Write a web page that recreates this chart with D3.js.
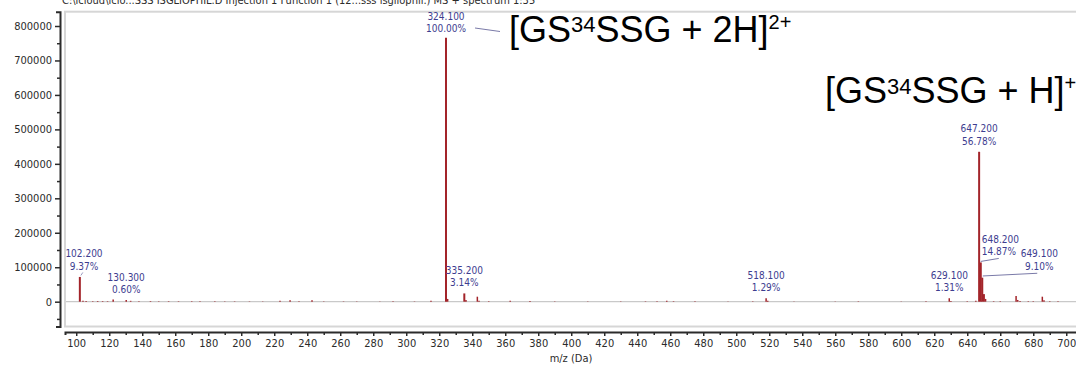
<!DOCTYPE html>
<html>
<head>
<meta charset="utf-8">
<script src="https://cdn.jsdelivr.net/npm/d3@7"></script>
<style>
  body { margin: 0; background: #fff; }
  svg { display: block; }
</style>
</head>
<body>
<script>
(function(){

  //peak list (m/z, intensity)
  var peakMz = [102.2, 104.1, 106.0, 110.0, 113.0, 116.0, 119.0, 122.4, 130.3, 133.0,
    138.0, 145.0, 150.0, 156.0, 162.0, 170.0, 175.0, 184.0, 190.0, 196.0,
    205.0, 213.0, 223.5, 229.6, 235.0, 242.9, 250.0, 262.0, 270.0, 284.0,
    292.0, 305.0, 315.0, 324.1, 325.1, 335.2, 336.2, 343.1, 344.1, 350.0,
    363.0, 375.0, 390.0, 410.0, 430.0, 445.0, 452.0, 457.9, 462.0, 475.0,
    495.0, 510.0, 518.1, 519.1, 535.0, 560.0, 574.0, 600.0, 615.0, 629.1,
    630.1, 640.0, 645.2, 647.2, 648.2, 649.1, 650.1, 651.1, 656.0, 660.0,
    669.6, 670.6, 672.0, 677.0, 680.0, 685.5, 686.5, 690.0, 695.0];
  var peakInt = [71800, 3000, 2000, 1500, 2000, 1800, 1500, 6000, 4600, 2500,
    1500, 1800, 1200, 1500, 1300, 1500, 1200, 1300, 1000, 1100,
    1000, 900, 3000, 4000, 1500, 4000, 1000, 1000, 900, 800,
    1000, 900, 2500, 766000, 8000, 24000, 5000, 14500, 3000, 1500,
    2500, 2000, 1000, 900, 1000, 1200, 1500, 3000, 1500, 1000,
    900, 1200, 9900, 2500, 800, 900, 1200, 900, 1000, 10000,
    2000, 1500, 3000, 435000, 113900, 69700, 22000, 8000, 1500, 1200,
    16500, 5000, 2000, 1500, 1200, 14500, 4500, 1500, 1000];

  //labelled peaks
  var labelMz = [102.2, 130.3, 324.1, 335.2, 518.1, 629.1, 647.2, 648.2, 649.1];
  var labelInt = [71800, 4600, 766000, 24000, 9900, 10000, 435000, 113900, 69700];
  var labelPct = ["9.37%", "0.60%", "100.00%", "3.14%", "1.29%", "1.31%", "56.78%", "14.87%", "9.10%"];

  //axis ticks
  var xTicks = d3.range(100, 701, 20);
  var xMinor = d3.range(110, 711, 20);
  var yTicks = d3.range(0, 800001, 100000);
  var yMinor = d3.range(-50000, 800001, 100000);

  var titleText = "C:\\icloud\\iclo...SSS ISGLIOPHIL.D Injection 1 Function 1 (12...sss isgliophil.) MS + spectrum 1:35";

  var width = 1076, height = 365;
  var peakColor = "#a3242a", labelColor = "#3d3d8f", inkColor = "#2b2b2b";
  var smallFont = "'DejaVu Sans Condensed', 'DejaVu Sans', sans-serif";

  var svg = d3.select("body").append("svg")
      .attr("width", width)
      .attr("height", height);

  var x = d3.scaleLinear().domain([93.2, 715]).range([65, 1091]);
  var y = d3.scaleLinear().domain([-72000, 841500]).range([326.5, 11.7]);

  //title, mostly cut off by the top of the window (as in the original)
  svg.append("text")
      .attr("x", 62).attr("y", 3.5)
      .style("font-family", smallFont).style("font-size", "11px")
      .attr("fill", inkColor)
      .text(titleText);

  //plot frame
  svg.append("rect")
      .attr("x", 65).attr("y", 11.7)
      .attr("width", 1100).attr("height", 326.5 - 11.7)
      .attr("fill", "none")
      .attr("stroke", "#d6d6d6").attr("stroke-width", 2);

  //zero baseline
  svg.append("line")
      .attr("x1", 66).attr("x2", width)
      .attr("y1", y(0)).attr("y2", y(0))
      .attr("stroke", "#c9c9c9").attr("stroke-width", 1.2);

  //peaks
  svg.selectAll(".peak")
    .data(peakMz)
    .enter()
    .append("line")
      .attr("class", "peak")
      .attr("x1", function(d){ return x(d); })
      .attr("x2", function(d){ return x(d); })
      .attr("y1", y(0))
      .attr("y2", function(d, i){ return y(peakInt[i]); })
      .attr("stroke", peakColor)
      .attr("stroke-width", function(d, i){ return peakInt[i] > 20000 ? 2 : 1.5; });

  //y axis
  svg.append("g")
      .attr("transform", "translate(60,0)")
      .call(d3.axisLeft(y).tickValues(yTicks).tickSize(5).tickSizeOuter(4).tickPadding(3)
        .tickFormat(d3.format("d")));
  svg.append("g")
      .attr("transform", "translate(60,0)")
      .call(d3.axisLeft(y).tickValues(yMinor).tickSize(3).tickSizeOuter(0).tickFormat(""))
      .select(".domain").remove();

  //x axis
  svg.append("g")
      .attr("transform", "translate(0,332)")
      .call(d3.axisBottom(x).tickValues(xTicks).tickSize(4).tickSizeOuter(3).tickPadding(3)
        .tickFormat(d3.format("d")));
  svg.append("g")
      .attr("transform", "translate(0,332)")
      .call(d3.axisBottom(x).tickValues(xMinor).tickSize(3).tickSizeOuter(0).tickFormat(""))
      .select(".domain").remove();

  svg.selectAll(".domain").attr("stroke", inkColor).attr("stroke-width", 2);
  svg.selectAll(".tick line").attr("stroke", inkColor).attr("stroke-width", 1.5);
  svg.selectAll(".tick text")
      .attr("fill", inkColor)
      .style("font-family", smallFont).style("font-size", "11px");

  svg.append("text")
      .attr("x", 571).attr("y", 362)
      .attr("text-anchor", "middle")
      .style("font-family", smallFont).style("font-size", "11px")
      .attr("fill", inkColor)
      .text("m/z (Da)");

  //peak labels: default sits above the peak, a few are moved aside with a leader
  var moved = {
    "648.2": { dx: 1, dy1: -23, anchor: "start", lead: [0, -1, 18, -4] },
    "649.1": { dx: 57, dy1: -23.7, anchor: "middle", lead: [0.5, -1.7, 55, -4.4] }
  };

  labelMz.forEach(function(mz, i){
    var px = x(mz), py = y(labelInt[i]);
    var key = String(mz);
    var lx = px, anchor = "middle", l1 = Math.max(py - 23, 16);
    if (moved[key]){
      lx = px + moved[key].dx;
      anchor = moved[key].anchor;
      l1 = py + moved[key].dy1;
      var m = moved[key].lead;
      svg.append("line")
          .attr("x1", px + m[0]).attr("y1", py + m[1])
          .attr("x2", px + m[2]).attr("y2", py + m[3])
          .attr("stroke", "#7a7aa8").attr("stroke-width", 1);
    }
    //keep the first label inside the frame
    if (anchor == "middle" && lx - 18 < 66) lx = 66 + 18;

    var t = svg.append("text")
        .attr("text-anchor", anchor)
        .attr("fill", labelColor)
        .style("font-family", smallFont).style("font-size", "10px");
    t.append("tspan").attr("x", lx).attr("y", l1 + 3.5).text(d3.format(".3f")(mz));
    t.append("tspan").attr("x", lx).attr("y", l1 + 16).text(labelPct[i]);
  });

  //small leader marks
  svg.append("line")
      .attr("x1", 475).attr("y1", 28).attr("x2", 500).attr("y2", 31.5)
      .attr("stroke", "#7a7aa8").attr("stroke-width", 1);
  svg.append("line")
      .attr("x1", x(102.2) + 1).attr("y1", y(71800) - 1.5)
      .attr("x2", x(102.2) + 3).attr("y2", y(71800) - 4.5)
      .attr("stroke", "#9a9ac0").attr("stroke-width", 1);

  //ion annotations
  function ion(px, py, charge, sup){
    var t = svg.append("text")
        .attr("x", px).attr("y", py)
        .style("font-family", "'Liberation Sans', Arial, sans-serif")
        .style("font-size", "36px")
        .attr("fill", "#000");
    t.append("tspan").text("[GS");
    t.append("tspan").attr("dy", -9.5).style("font-size", "22px").text("34");
    t.append("tspan").attr("dy", 9.5).text("SSG + " + charge + "]");
    t.append("tspan").attr("dy", -13).style("font-size", "20px").text(sup);
  }
  ion(509, 41.5, "2H", "2+");
  ion(825, 103, "H", "+");

})();
</script>
</body>
</html>
